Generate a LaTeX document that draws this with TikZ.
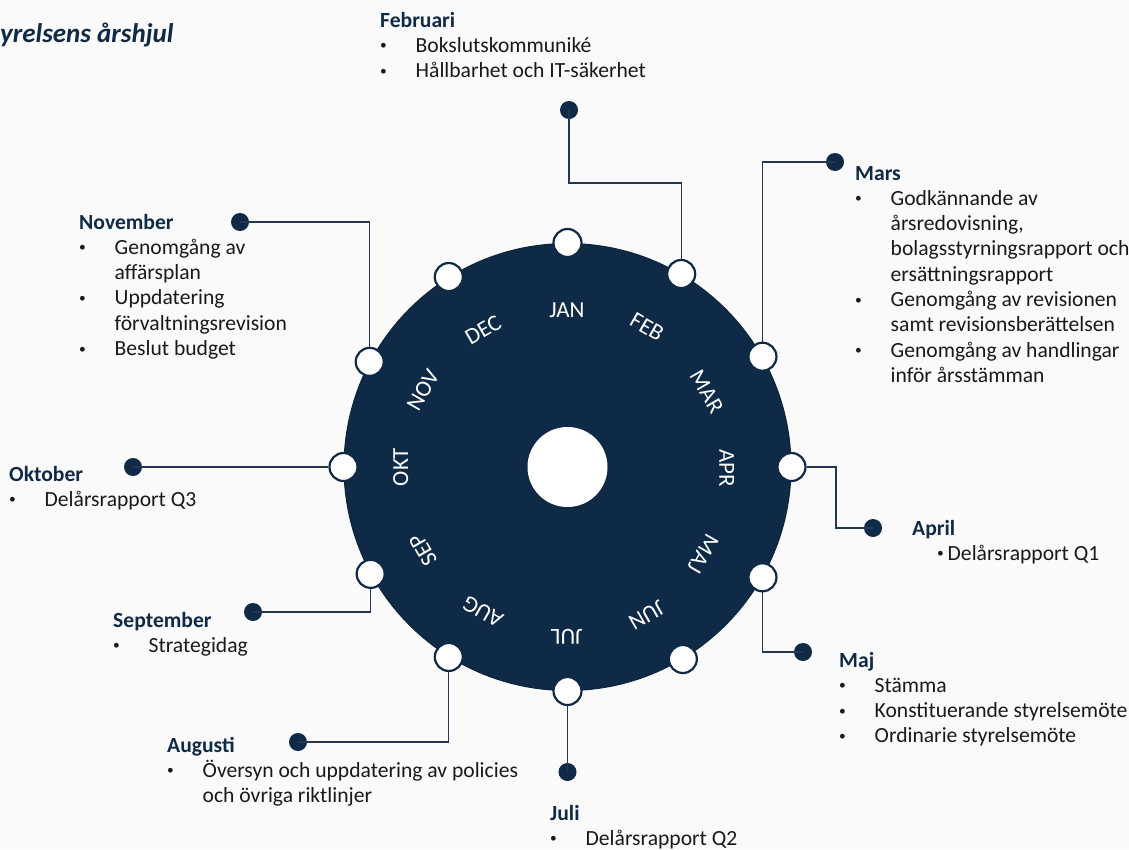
\documentclass[tikz,border=0pt]{standalone}
\usepackage{fontspec}
\setmainfont{Carlito}
\usetikzlibrary{calc}
\definecolor{navy}{RGB}{14,42,71}
\definecolor{bodytext}{RGB}{25,25,25}
\definecolor{pagebg}{RGB}{250,250,250}
\definecolor{linec}{RGB}{35,55,80}
\newcommand{\mhead}[1]{\multicolumn{2}{@{}l@{}}{\bfseries\color{navy}#1}}
\newcommand{\bul}[1][0pt]{\makebox[35.5pt][l]{\hspace*{#1}\raisebox{2.5pt}{\fontsize{13.5}{14}\selectfont•}}}
\begin{document}
\begin{tikzpicture}[x=1pt,y=1pt,
  wheelstyle/.style={circle, fill=navy, draw=navy!85!black, line width=1pt, minimum size=447pt, inner sep=0pt},
  hubstyle/.style={circle, fill=white, minimum size=80pt, inner sep=0pt},
  knob/.style={circle, fill=white, draw=navy, line width=2.2pt, minimum size=28pt, inner sep=0pt},
  dotstyle/.style={circle, fill=navy, minimum size=18pt, inner sep=0pt},
  mlabel/.style={text=white, font=\fontsize{23}{27}\selectfont, inner sep=0pt},
  conn/.style={draw=linec, line width=1.3pt},
  block/.style={anchor=base west, inner sep=0pt, font=\fontsize{21.6}{25.3}\selectfont, text=bodytext},
]
\useasboundingbox (0,0) rectangle (1129,-849);
\fill[pagebg] (0,0) rectangle (1129,-849);

% title
\node[anchor=base west, inner sep=0pt, text=navy, font=\fontsize{27}{30}\selectfont\bfseries\itshape] (title) at (0,-42) {yrelsens årshjul};

% wheel
\node[wheelstyle] (wheel) at (567.5,-467) {};
\node[hubstyle] (hub) at (wheel.center) {};

\foreach \nm/\a in {jan/90, feb/59.5, mar/29.5, apr/0, maj/-29.5, jun/-59, jul/-90, aug/238, sep/208.5, okt/180, nov/152, dec/122}
  \node[knob] (\nm) at ($(wheel.center)+(\a:224)$) {};

\foreach \t/\x/\y/\r in {JAN/567/310/0, FEB/647/327/-30, MAR/706.7/391.7/-60, APR/726.7/468/-90, MAJ/703/554/-120, JUN/646.7/615/-150, JUL/566.7/636.7/180, AUG/483/611.7/150, SEP/423/550/120, OKT/400.7/467/90, NOV/423/390/60, DEC/483/330/30}
  \node[mlabel, rotate=\r] (l\t) at (\x,-\y) {\t};

% dots
\node[dotstyle] (febdot) at (569,-110) {};
\node[dotstyle] (mardot) at (835,-162) {};
\node[dotstyle] (aprdot) at (873,-528) {};
\node[dotstyle] (majdot) at (803,-652) {};
\node[dotstyle] (juldot) at (567.5,-772) {};
\node[dotstyle] (augdot) at (298,-742) {};
\node[dotstyle] (sepdot) at (253,-612) {};
\node[dotstyle] (oktdot) at (133,-467) {};
\node[dotstyle] (novdot) at (240,-222) {};

% connectors
\coordinate (febk) at (569,-183);
\coordinate (aprk) at (836,-467);
\draw[conn] (febdot.center) -- (febk) -| (feb);
\draw[conn] (mardot.center) -| (mar);
\draw[conn] (apr) -- (aprk) |- (aprdot.center);
\draw[conn] (maj) |- (majdot.center);
\draw[conn] (jul) -- (juldot.center);
\draw[conn] (aug) |- (augdot.center);
\draw[conn] (sep) |- (sepdot.center);
\draw[conn] (okt) -- (oktdot.center);
\draw[conn] (nov) |- (novdot.center);

% text blocks
\node[block] (tfeb) at (380,-27) {\begin{tabular}[t]{@{}l@{}l@{}}\mhead{Februari}\\
  \bul & Bokslutskommuniké\\
  \bul & Hållbarhet och IT-säkerhet\end{tabular}};
\node[block] (tmar) at (855,-180) {\begin{tabular}[t]{@{}l@{}l@{}}\mhead{Mars}\\
  \bul & Godkännande av\\
       & årsredovisning,\\
       & bolagsstyrningsrapport och\\
       & ersättningsrapport\\
  \bul & Genomgång av revisionen\\
       & samt revisionsberättelsen\\
  \bul & Genomgång av handlingar\\
       & inför årsstämman\end{tabular}};
\node[block] (tapr) at (912,-535) {\begin{tabular}[t]{@{}l@{}l@{}}\mhead{April}\\
  \bul[25pt] & Delårsrapport Q1\end{tabular}};
\node[block] (tmaj) at (839,-667) {\begin{tabular}[t]{@{}l@{}l@{}}\mhead{Maj}\\
  \bul & Stämma\\
  \bul & Konstituerande styrelsemöte\\
  \bul & Ordinarie styrelsemöte\end{tabular}};
\node[block] (tjul) at (550,-820) {\begin{tabular}[t]{@{}l@{}l@{}}\mhead{Juli}\\
  \bul & Delårsrapport Q2\end{tabular}};
\node[block] (taug) at (167,-752) {\begin{tabular}[t]{@{}l@{}l@{}}\mhead{Augusti}\\
  \bul & Översyn och uppdatering av policies\\
       & och övriga riktlinjer\end{tabular}};
\node[block] (tsep) at (113,-627) {\begin{tabular}[t]{@{}l@{}l@{}}\mhead{September}\\
  \bul & Strategidag\end{tabular}};
\node[block] (tokt) at (9,-481) {\begin{tabular}[t]{@{}l@{}l@{}}\mhead{Oktober}\\
  \bul & Delårsrapport Q3\end{tabular}};
\node[block] (tnov) at (79,-229) {\begin{tabular}[t]{@{}l@{}l@{}}\mhead{November}\\
  \bul & Genomgång av\\
       & affärsplan\\
  \bul & Uppdatering\\
       & förvaltningsrevision\\
  \bul & Beslut budget\end{tabular}};
\end{tikzpicture}
\end{document}
